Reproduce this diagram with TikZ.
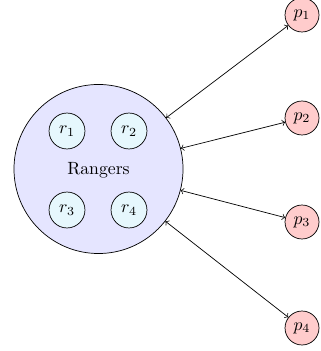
\documentclass[tikz,border=0pt]{standalone}
\begin{document}
\begin{tikzpicture}[x=0.565pt,y=-0.565pt,
  group/.style={circle,draw,fill=blue!10,minimum size=95.5pt,inner sep=0pt},
  ranger/.style={circle,draw,fill=cyan!10,minimum size=20.3pt,inner sep=0pt},
  player/.style={circle,draw,fill=red!20,minimum size=19.2pt,inner sep=0pt},
  link/.style={<->}]
\useasboundingbox (0,0) rectangle (320,351);
% group of rangers
\node[group] (R) at (98.5,169) {};
\node (lbl) at (98.5,170) {Rangers};
\node[ranger] (r1) at (67,131) {$r_1$};
\node[ranger] (r2) at (129,131) {$r_2$};
\node[ranger] (r3) at (67,210) {$r_3$};
\node[ranger] (r4) at (129,210) {$r_4$};
% outside players
\node[player] (p1) at (302,15) {$p_1$};
\node[player] (p2) at (302,118) {$p_2$};
\node[player] (p3) at (302,222) {$p_3$};
\node[player] (p4) at (302,328) {$p_4$};
% links between the group and each player
\foreach \i in {1,...,4}
  \draw[link] (R) -- (p\i);
\end{tikzpicture}
\end{document}
